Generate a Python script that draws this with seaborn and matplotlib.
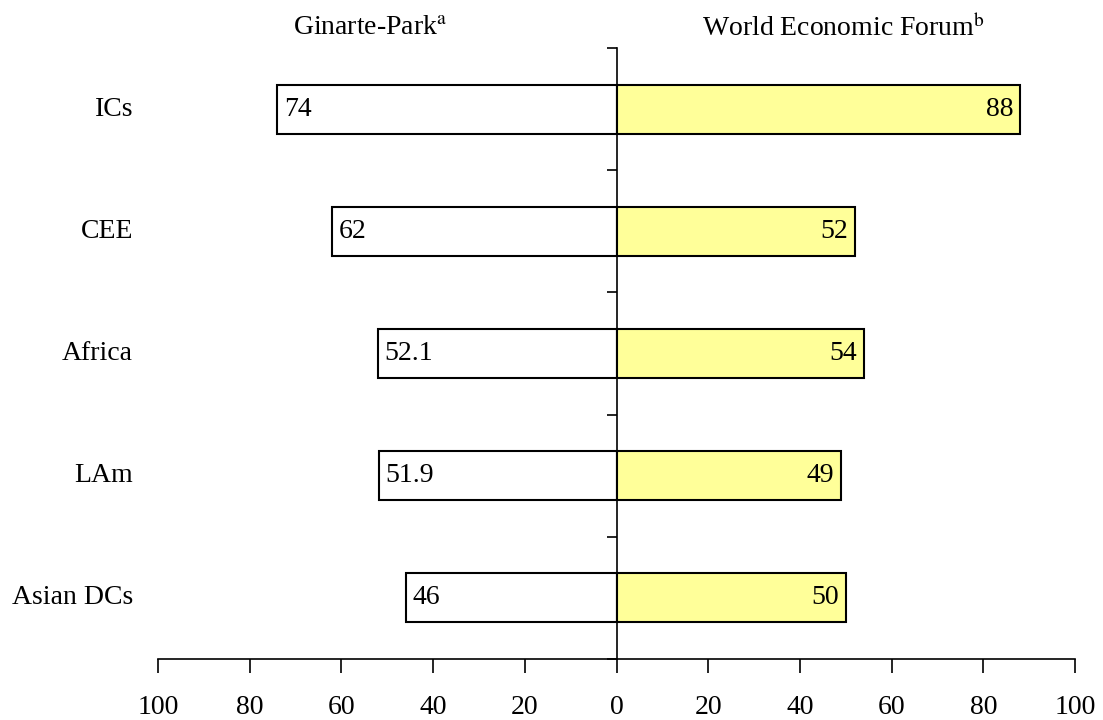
import matplotlib
matplotlib.use("Agg")
import matplotlib.pyplot as plt
import matplotlib.transforms as mtrans
import seaborn as sns
import pandas as pd

# Data
l_regions = ["ICs", "CEE", "Africa", "LAm", "Asian DCs"]
l_ginarte_park = [74, 62, 52.1, 51.9, 46]
l_wef = [88, 52, 54, 49, 50]
l_tick_values = [-100, -80, -60, -40, -20, 0, 20, 40, 60, 80, 100]
l_tick_labels = ["100", "80", "60", "40", "20", "0", "20", "40", "60", "80", "100"]
l_labels_left = ["74", "62", "52.1", "51.9", "46"]
l_labels_right = ["88", "52", "54", "49", "50"]

sns.set_style("white")
plt.rcParams["font.family"] = ["Liberation Serif", "DejaVu Serif"]
plt.rcParams["mathtext.fontset"] = "stix"
plt.rcParams["text.color"] = "black"
plt.rcParams["xtick.color"] = "black"
plt.rcParams["ytick.color"] = "black"

fs = 20

df_plot = pd.DataFrame({
    "Region": l_regions,
    "Left": [-v for v in l_ginarte_park],
    "Right": l_wef,
})

fig = plt.figure(figsize=(11.03, 7.2), dpi=100)
ax = fig.add_axes([158 / 1103, 1 - 659 / 720, 917 / 1103, 611 / 720])

sns.barplot(data=df_plot, x="Left", y="Region", orient="h", ax=ax,
            color="white", edgecolor="black", linewidth=1.5, width=0.4,
            saturation=1)
sns.barplot(data=df_plot, x="Right", y="Region", orient="h", ax=ax,
            color="#FFFF99", edgecolor="black", linewidth=1.5, width=0.4,
            saturation=1)

ax.set_xlim(-100, 100)
ax.set_ylim(len(l_regions) - 0.5, -0.5)

# Bar labels inside the bar ends
for i, (v_l, v_r) in enumerate(zip(l_ginarte_park, l_wef)):
    ax.annotate(l_labels_left[i], xy=(-v_l, i), xytext=(5, 0),
                textcoords="offset points", ha="left", va="center", fontsize=fs)
    ax.annotate(l_labels_right[i], xy=(v_r, i), xytext=(-5, 0),
                textcoords="offset points", ha="right", va="center", fontsize=fs)

# Category labels on the left
trans = mtrans.blended_transform_factory(fig.transFigure, ax.transData)
for i, region in enumerate(l_regions):
    ax.text(133 / 1103, i, region, transform=trans, ha="right", va="center",
            fontsize=fs)

# Spines: centre line at zero, bottom axis
for side in ["top", "right"]:
    ax.spines[side].set_visible(False)
ax.spines["left"].set_position(("data", 0))
for side in ["left", "bottom"]:
    ax.spines[side].set_linewidth(1.2)
    ax.spines[side].set_color("black")

ax.set_yticks([y - 0.5 for y in range(len(l_regions) + 1)])
ax.set_yticklabels([])
ax.tick_params(axis="y", direction="out", length=7, width=1.2, left=True)
ax.set_xticks(l_tick_values)
ax.set_xticklabels(l_tick_labels, fontsize=fs)
ax.tick_params(axis="x", direction="out", length=10, width=1.2,
               pad=16, bottom=True)
ax.set_xlabel("")
ax.set_ylabel("")

# Series headers
fig.text(370 / 1103, 1 - 28 / 720, r"Ginarte-Park$^{\mathrm{a}}$", ha="center",
         va="center", fontsize=fs)
fig.text(843 / 1103, 1 - 28 / 720, r"World Economic Forum$^{\mathrm{b}}$",
         ha="center", va="center", fontsize=fs)

fig.savefig("out.png", dpi=100)
